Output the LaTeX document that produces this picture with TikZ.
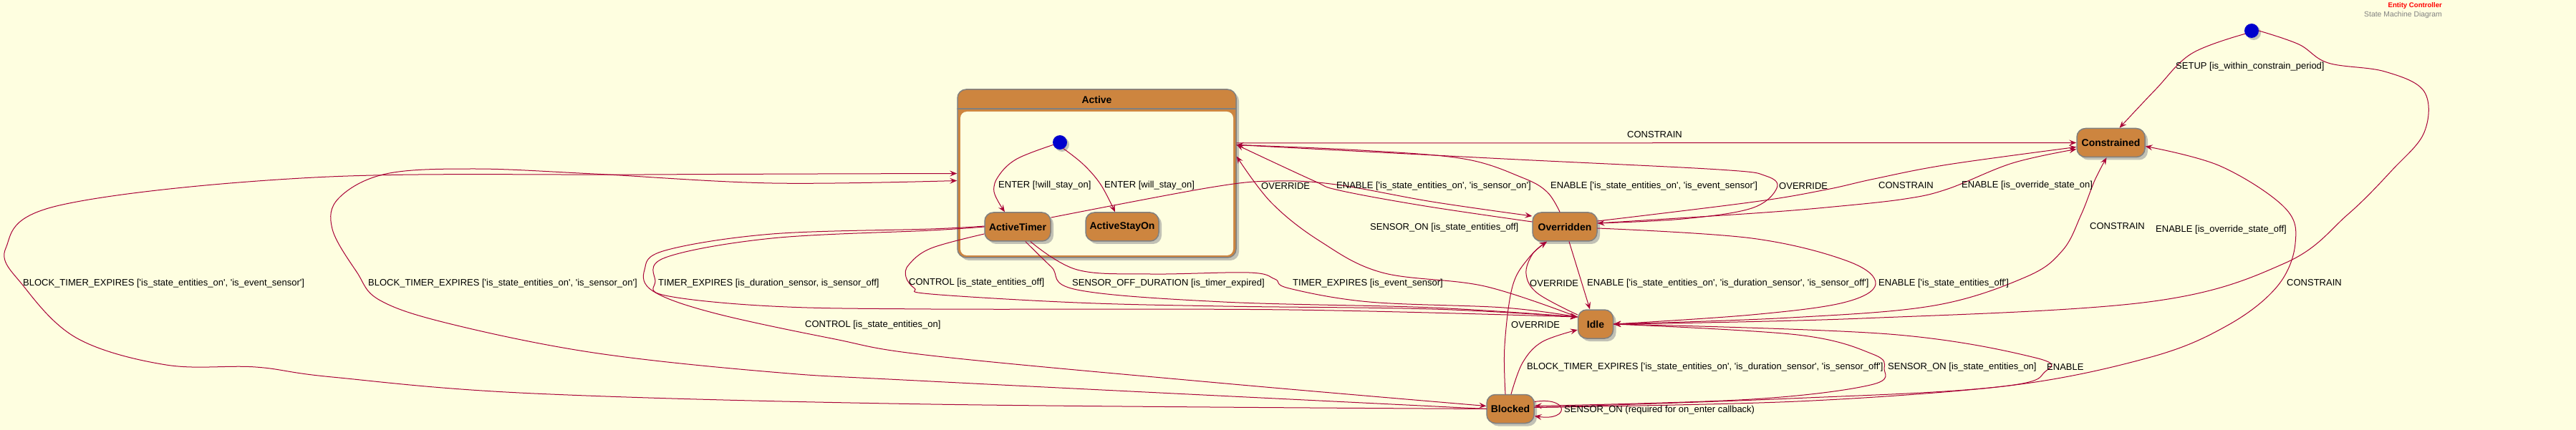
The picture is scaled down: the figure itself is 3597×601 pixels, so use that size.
\documentclass[tikz,border=0pt]{standalone}
\usepackage{fontspec}
\setmainfont{Liberation Sans}
\usetikzlibrary{arrows.meta,shadows}

\definecolor{bgyellow}{RGB}{254,254,224}
\definecolor{peru}{RGB}{205,133,63}
\definecolor{edgered}{RGB}{168,0,54}
\definecolor{stategray}{RGB}{128,128,128}
\definecolor{startblue}{RGB}{0,0,205}
\newcommand{\sq}{\textquotesingle}

\begin{document}
\begin{tikzpicture}[x=1pt, y=-1pt, line join=round, line cap=round,
    state/.style={draw=stategray, line width=1.5pt, fill=peru, rounded corners=12pt,
      minimum height=40pt, inner sep=0pt, font=\fontsize{14}{16}\selectfont\bfseries,
      drop shadow={shadow xshift=4pt, shadow yshift=-4pt, fill=black!40, opacity=0.6}},
    statename/.style={inner sep=0pt, font=\fontsize{14}{16}\selectfont\bfseries},
    startdot/.style={circle, fill=startblue, minimum size=20pt, inner sep=0pt,
      drop shadow={shadow xshift=3pt, shadow yshift=-3pt, fill=black!40, opacity=0.6}},
    tr/.style={draw=edgered, line width=1pt, -{Stealth[length=10pt, width=8pt, inset=4pt]}},
    lbl/.style={anchor=west, inner sep=0pt, font=\fontsize{13}{15}\selectfont},
    smoothpath/.style={smooth, tension=0.6}]

    % Canvas
    \useasboundingbox[fill=bgyellow] (0,0) rectangle (3597,601);

    % 1. Title in the top right corner
    \node[anchor=east, inner sep=0pt, text=red, font=\fontsize{9.6}{11}\selectfont\bfseries] (titleMain) at (3410,8) {Entity Controller};
    \node[anchor=east, inner sep=0pt, text=stategray, font=\fontsize{10.4}{12}\selectfont] (titleSub) at (3410,21) {State Machine Diagram};

    % 2. Composite state Active with its inner states
    \node[state, minimum width=389pt, minimum height=235pt] (Active) at (1531.5,242.5) {};
    \fill[bgyellow, rounded corners=9pt] (1341,156) rectangle (1722,357);
    \draw[stategray, line width=1.5pt] (1337,152) -- (1726,152);
    \node[statename] (activeTitle) at (1531.5,139) {Active};
    \node[startdot] (ainit) at (1480,199) {};
    \node[state, minimum width=92pt] (ActiveTimer) at (1421,317) {ActiveTimer};
    \node[state, minimum width=102pt] (ActiveStayOn) at (1567,317) {ActiveStayOn};

    % 3. Top level states
    \node[startdot] (topinit) at (3144,43) {};
    \node[state, minimum width=90pt] (Overridden) at (2185,317) {Overridden};
    \node[state, minimum width=95pt] (Constrained) at (2947.5,199.5) {Constrained};
    \node[state, minimum width=49pt] (Idle) at (2228,453) {Idle};
    \node[state, minimum width=66pt] (Blocked) at (2109,571.5) {Blocked};

    % 4. Transitions inside Active
    \draw[tr] plot[smoothpath] coordinates {(ainit.200) (1420,222) (1395,245) (1388,268) ([xshift=-18pt]ActiveTimer.north)};
    \draw[tr] plot[smoothpath] coordinates {(ainit.300) (1513,230) (1537,258) ([xshift=-10pt]ActiveStayOn.north)};

    % 5. Transitions from the initial state
    \draw[tr] plot[smoothpath] coordinates {(topinit.205) (3060,75) (3010,125) ([xshift=12pt]Constrained.north)};
    \draw[tr] plot[smoothpath] coordinates {(topinit.east) (3210,62) (3251,88) (3330,100) (3385,128) (3385,185) (3340,238) (3278,300) (3190,368) (3000,422) (2600,445) (Idle.east)};

    % 6. Transitions to Constrained
    \draw[tr] ([yshift=42.5pt]Active.east) -- (Constrained.west);
    \draw[tr] plot[smoothpath] coordinates {([yshift=8pt]Overridden.east) (2450,282) (2550,265) (2617,250) (2720,230) ([yshift=-6pt]Constrained.west)};
    \draw[tr] plot[smoothpath] coordinates {([yshift=5pt]Overridden.east) (2450,298) (2560,289) (2660,278) (2720,264) (2810,228) ([yshift=-9pt]Constrained.west)};
    \draw[tr] plot[smoothpath] coordinates {(Idle.east) (2500,444) (2701,427) (2829,387) (2880,350) (2906,300) (2925,252) ([xshift=-6pt]Constrained.south)};
    \draw[tr] plot[smoothpath] coordinates {([yshift=2pt]Blocked.east) (2500,557) (2797,540) (3000,500) (3110,455) (3180,400) (3205,340) (3190,290) (3100,232) ([yshift=-5pt]Constrained.east)};

    % 7. Transitions between Active and Overridden
    \draw[tr] plot[smoothpath] coordinates {([yshift=7pt]Overridden.west) (1990,288) (1870,266) (1833,252) ([yshift=40pt]Active.east)};
    \draw[tr] plot[smoothpath] coordinates {([xshift=-7pt]Overridden.north) (2160,268) (2125,248) (2044,222) (1900,210) ([yshift=40pt]Active.east)};
    \draw[tr] plot[smoothpath] coordinates {([yshift=40pt]Active.east) (2100,222) (2400,237) (2466,246) (2481,263) (2446,291) (2350,306) ([yshift=5pt]Overridden.east)};
    \draw[tr] plot[smoothpath] coordinates {([yshift=13pt]ActiveTimer.east) (1690,262) (1780,253) (1866,258) (2000,282) ([yshift=15pt]Overridden.west)};

    % 8. Transitions between Idle and Active
    \draw[tr] plot[smoothpath] coordinates {([yshift=10pt]Idle.west) (2073,400) (1930,381) (1843,337) (1775,283) ([yshift=24pt]Active.east)};
    \draw[tr] plot[smoothpath] coordinates {(ActiveTimer.west) (1300,322) (1078,333) (929,360) (915,393) (929,413) (1078,428) (1300,432) (1800,433) ([yshift=10pt]Idle.west)};
    \draw[tr] plot[smoothpath] coordinates {([yshift=-10pt]ActiveTimer.west) (1300,347) (1269,370) (1265,387) (1277,403) (1300,411) (1504,423) (1708,428) (2000,432) ([yshift=10pt]Idle.west)};
    \draw[tr] plot[smoothpath] coordinates {([xshift=11pt]ActiveTimer.south) (1468,373) (1504,405) (1708,422) (2000,430) ([yshift=10pt]Idle.west)};
    \draw[tr] plot[smoothpath] coordinates {([xshift=18pt]ActiveTimer.south) (1504,377) (1606,383) (1744,381) (1780,390) (1800,403) (1912,422) (2100,430) ([yshift=10pt]Idle.west)};

    % 9. Transitions between Blocked and Active
    \draw[tr] plot[smoothpath] coordinates {([yshift=1pt]ActiveTimer.west) (1300,320) (1078,327) (929,350) (900,377) (912,407) (995,437) (1161,473) (1300,497) (1700,535) ([yshift=4pt]Blocked.west)};
    \draw[tr] plot[smoothpath] coordinates {(Blocked.west) (1300,565) (746,550) (464,527) (357,513) (232,510) (108,473) (33,400) (8,347) (83,287) (439,248) (900,244) (Active.west)};
    \draw[tr] plot[smoothpath] coordinates {(Blocked.west) (1300,533) (1078,520) (829,493) (630,453) (531,420) (498,380) (464,320) (473,277) (539,243) (663,236) (829,243) (1078,256) ([yshift=-10pt]Active.west)};

    % 10. Transitions around Overridden, Idle and Blocked
    \draw[tr] ([xshift=6pt]Overridden.south) -- ([xshift=-8pt]Idle.north);
    \draw[tr] plot[smoothpath] coordinates {([yshift=13pt]Idle.west) (2147,410) (2131,383) (2140,355) ([xshift=-25pt]Overridden.south)};
    \draw[tr] plot[smoothpath] coordinates {([xshift=-7pt]Blocked.north) (2101,483) (2112,400) (2135,360) ([xshift=-25pt]Overridden.south)};
    \draw[tr] plot[smoothpath] coordinates {([yshift=-2pt]Overridden.east) (2446,333) (2580,365) (2619,397) (2574,423) (2446,440) (Idle.east)};
    \draw[tr] plot[smoothpath] coordinates {([xshift=1pt]Blocked.north) (2126,507) (2153,478) ([yshift=-8pt]Idle.west)};
    \draw[tr] plot[smoothpath] coordinates {(Idle.east) (2510,468) (2615,495) (2631,515) (2612,538) (2446,558) ([yshift=4pt]Blocked.east)};
    \draw[tr] plot[smoothpath] coordinates {([yshift=2pt]Blocked.east) (2510,561) (2797,540) (2855,520) (2842,500) (2638,467) (Idle.east)};
    \draw[tr] ([yshift=10pt]Blocked.east) .. controls (2192,554) and (2192,589) .. ([yshift=-10pt]Blocked.east);

    % 11. Transition labels
    \node[lbl] (lEnterTimer) at (1394,259) {ENTER [!will\_stay\_on]};
    \node[lbl] (lEnterStay) at (1542,259) {ENTER [will\_stay\_on]};
    \node[lbl] (lSetup) at (3038,93) {SETUP [is\_within\_constrain\_period]};
    \node[lbl] (lConstrainA) at (2272,188) {CONSTRAIN};
    \node[lbl] (lConstrainO) at (2623,259) {CONSTRAIN};
    \node[lbl] (lEnableOvOn) at (2739,259) {ENABLE [is\_override\_state\_on]};
    \node[lbl] (lOverrideT) at (1761,260) {OVERRIDE};
    \node[lbl] (lEnableSensor) at (1866,260) {ENABLE [\sq is\_state\_entities\_on\sq, \sq is\_sensor\_on\sq]};
    \node[lbl] (lEnableEvent) at (2165,260) {ENABLE [\sq is\_state\_entities\_on\sq, \sq is\_event\_sensor\sq]};
    \node[lbl] (lOverrideA) at (2484,260) {OVERRIDE};
    \node[lbl] (lSensorOff) at (1913,318) {SENSOR\_ON [is\_state\_entities\_off]};
    \node[lbl] (lEnableOvOff) at (3010,321) {ENABLE [is\_override\_state\_off]};
    \node[lbl] (lConstrainI) at (2918,316) {CONSTRAIN};
    \node[lbl] (lConstrainB) at (3193,395) {CONSTRAIN};
    \node[lbl] (lOverrideI) at (2136,396) {OVERRIDE};
    \node[lbl] (lEnableDur) at (2216,396) {ENABLE [\sq is\_state\_entities\_on\sq, \sq is\_duration\_sensor\sq, \sq is\_sensor\_off\sq]};
    \node[lbl] (lEnableOff) at (2623,396) {ENABLE [\sq is\_state\_entities\_off\sq]};
    \node[lbl] (lOverrideB) at (2110,454) {OVERRIDE};
    \node[lbl] (lBlockDur) at (2132,513) {BLOCK\_TIMER\_EXPIRES [\sq is\_state\_entities\_on\sq, \sq is\_duration\_sensor\sq, \sq is\_sensor\_off\sq]};
    \node[lbl] (lSensorOn) at (2636,513) {SENSOR\_ON [is\_state\_entities\_on]};
    \node[lbl] (lEnableB) at (2858,513) {ENABLE};
    \node[lbl] (lSensorLoop) at (2184,573) {SENSOR\_ON (required for on\_enter callback)};
    \node[lbl] (lBlockEvent) at (32,396) {BLOCK\_TIMER\_EXPIRES [\sq is\_state\_entities\_on\sq, \sq is\_event\_sensor\sq]};
    \node[lbl] (lBlockSensor) at (514,396) {BLOCK\_TIMER\_EXPIRES [\sq is\_state\_entities\_on\sq, \sq is\_sensor\_on\sq]};
    \node[lbl] (lTimerDur) at (919,396) {TIMER\_EXPIRES [is\_duration\_sensor, is\_sensor\_off]};
    \node[lbl] (lControlOff) at (1269,395) {CONTROL [is\_state\_entities\_off]};
    \node[lbl] (lSensorDur) at (1497,396) {SENSOR\_OFF\_DURATION [is\_timer\_expired]};
    \node[lbl] (lTimerEvent) at (1805,396) {TIMER\_EXPIRES [is\_event\_sensor]};
    \node[lbl] (lControlOn) at (1124,454) {CONTROL [is\_state\_entities\_on]};

\end{tikzpicture}
\end{document}
